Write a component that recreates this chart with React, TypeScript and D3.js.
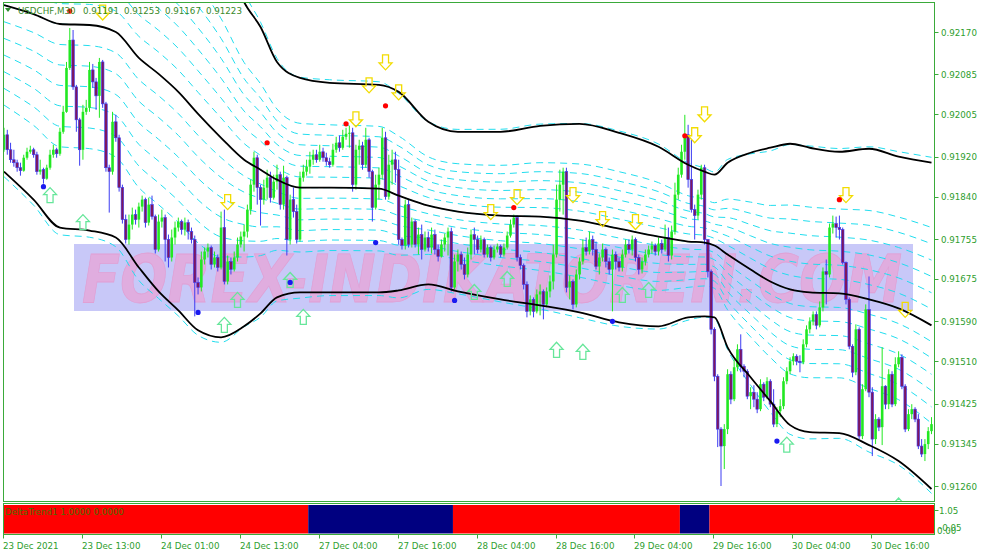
import React from 'react';
import * as d3 from 'd3';

// Prices are stored as points above 0.91000 (1 point = 0.00001)
const BASE = 0.91;
const PT = 0.00001;

const firstOpen = 934;
const closes = [
  964,934,914,908,898,892,918,930,934,924, 890,894,876,898,924,934,926,970,1010,1098,
  1154,1060,994,934,1010,1018,1094,1070,1042,1110, 1026,898,890,990,958,858,794,754,784,804,
  794,820,834,788,824,800,734,790,798,754, 718,758,778,790,774,788,770,754,668,658,
  714,730,738,704,718,698,778,670,710,694, 718,744,760,770,814,864,918,858,834,858,
  878,838,870,884,824,878,754,834,810,754, 878,890,900,914,924,914,930,918,910,904,
  934,948,938,960,966,968,864,934,942,904, 954,890,818,864,884,958,840,904,914,894,
  754,742,824,744,790,744,764,734,758,738, 764,734,720,744,758,770,658,710,724,704,
  684,724,764,754,734,754,724,738,718,734, 740,724,738,762,784,798,718,702,664,610,
  634,610,644,650,624,650,670,724,834,864, 890,658,670,624,684,710,738,730,754,734,
  700,718,734,710,694,724,710,698,724,744, 734,754,718,694,710,724,734,742,730,746,
  734,758,722,770,844,884,930,964,874,814, 802,844,898,754,690,574,480,374,340,374,
  484,434,498,534,500,490,440,448,434,414, 464,438,470,424,384,410,420,470,490,510,
  520,510,508,544,574,590,604,582,618,690, 684,778,786,778,774,708,634,540,488,574,
  360,454,614,448,354,394,378,460,424,484, 424,504,518,460,374,404,414,394,340,324,
  344,370,384
];
const highs = [
  978,974,948,934,914,908,924,938,942,938, 930,914,898,904,934,944,938,978,1022,1110,
  1178,1174,1064,998,1024,1034,1110,1106,1078,1118, 1114,1030,904,1010,1004,964,864,804,804,818,
  814,828,842,838,838,842,804,804,814,804, 764,774,790,798,794,798,794,778,762,678,
  730,738,746,742,730,724,810,814,722,718, 730,758,770,784,824,874,930,924,864,874,
  894,890,884,904,890,902,882,844,858,824, 890,904,914,930,934,934,944,938,928,918,
  946,960,962,974,978,982,978,944,954,950, 978,958,894,884,898,978,970,924,934,930,
  914,758,834,834,798,794,778,784,770,770, 778,774,744,754,766,778,778,724,734,730,
  718,738,774,778,762,762,758,744,742,742, 746,744,746,770,794,804,802,724,706,670,
  642,638,654,664,654,658,682,744,864,894, 898,898,682,674,694,718,754,758,770,762,
  750,726,746,738,718,734,730,718,734,754, 754,762,758,724,718,734,742,750,746,758,
  754,784,778,782,868,898,944,1004,984,954, 824,854,904,904,754,694,578,484,378,384,
  494,490,514,544,564,504,494,458,462,448, 474,468,478,474,454,418,434,478,498,518,
  526,524,522,554,582,598,610,610,630,698, 714,786,802,800,802,778,710,638,544,584,
  578,464,624,680,458,404,398,538,462,494, 490,518,530,524,464,414,424,418,404,354,
  354,378,398
];
const lows = [
  930,924,908,900,890,882,890,914,926,918, 884,884,866,874,894,918,918,922,966,1008,
  1094,1054,970,902,914,1004,1010,1058,1014,998, 1018,890,808,884,950,850,786,746,744,774,
  784,778,810,778,782,794,726,730,778,710, 698,710,744,770,764,762,754,746,600,644,
  650,704,718,694,698,690,694,664,664,684, 690,710,738,730,758,804,850,824,782,824,
  834,828,834,854,814,814,722,744,798,746, 750,870,882,886,904,908,910,910,902,898,
  900,928,930,934,954,938,850,854,904,894, 898,878,790,814,834,874,834,834,864,868,
  744,734,734,738,738,738,724,714,730,730, 726,724,710,718,730,722,650,654,690,694,
  674,678,714,724,726,728,718,718,710,714, 728,718,720,734,758,778,710,694,654,598,
  602,598,606,602,594,618,638,654,718,810, 804,648,634,614,618,674,704,722,724,722,
  694,684,710,698,684,610,694,690,690,718, 726,722,710,684,686,702,718,726,722,722,
  726,730,710,714,764,834,878,914,858,808, 754,794,834,744,678,564,470,338,260,294,
  364,424,430,490,488,478,434,414,418,406, 410,430,434,418,378,378,398,414,464,484,
  502,502,488,504,538,566,582,574,578,610, 624,678,766,758,754,704,624,534,478,482,
  354,354,450,438,320,344,370,342,414,414, 418,420,498,454,368,370,394,388,334,318,
  310,334,364
];

// Bands (upper / middle / lower), read at these bar indices
const bandIdx = [0,9,17,26,34,41,47,53,59,66,73,78,83,90,99,114,120,129,138,151,163,175,187,199,208,213,216,220,227,233,239,245,254,263,272,282];
const bandUpper = [1558,1578,1598,1598,1594,1564,1524,1484,1434,1354,1230,1180,1110,1078,1068,1064,1050,990,970,970,982,986,968,940,904,890,884,908,928,938,946,938,930,936,920,908];
const bandMiddle = [1224,1206,1186,1184,1170,1118,1086,1050,1006,958,914,894,874,858,858,856,842,822,810,802,800,792,776,760,750,748,742,724,694,670,654,648,646,634,616,582];
const bandLower = [890,834,778,772,758,698,650,612,572,558,580,606,638,648,648,648,652,664,650,634,622,608,588,580,598,600,598,538,478,430,382,368,366,342,310,254];
const cyanLevels = [-0.6,-0.5,-0.4,-0.3,-0.2,-0.1,0,0.1,0.2,0.3,0.4,0.5,0.6];
const shadowLevels = [-1.03, 1.03];

// Signals
const sellArrowIdx = [30,68,107,111,116,120,148,156,173,182,192,210,213,256,274];
const sellArrowPts = [1194,814,980,1048,1094,1034,794,824,828,780,774,948,990,828,598];
const buyArrowIdx = [14,24,67,71,87,91,143,153,168,176,188,196,238,272];
const buyArrowPts = [858,804,598,648,688,614,664,690,548,544,658,668,358,236];
const redDotIdx = [20,80,104,116,155,207,254];
const redDotPts = [1212,948,986,1022,818,962,834];
const blueDotIdx = [12,59,87,113,137,185,235];
const blueDotPts = [860,608,668,748,632,590,350];

// Sub-window DeltaTrend runs
const deltaStart = [0,93,137,206,215];
const deltaState = [1,0,1,0,1];

const priceTicks = [0.9217,0.92085,0.92005,0.9192,0.9184,0.91755,0.91675,0.9159,0.9151,0.91425,0.91345,0.9126];
const timeTickIdx = [0,24,48,72,96,120,144,168,192,216,240,264];
const timeLabels = ['23 Dec 2021','23 Dec 13:00','24 Dec 01:00','24 Dec 13:00','27 Dec 04:00','27 Dec 16:00','28 Dec 04:00','28 Dec 16:00','29 Dec 04:00','29 Dec 16:00','30 Dec 04:00','30 Dec 16:00'];
const symbolLabel = 'USDCHF,M30';
const headerValues = ['0.91191','0.91253','0.91167','0.91223'];
const subLabel = 'DeltaTrend1 1.0000 0.0000';
const subTicks = ['1.05', '-0.05', '0.00'];
const watermark = 'FOREX-INDIKATOREN.COM';

const FONT = 'DejaVu Sans';
const GREEN = '#2E9E2E';
const FRAME = '#3AAA3A';

export default function App() {
  const n = closes.length;
  const x = d3.scaleLinear().domain([0, n - 1]).range([4, 931.5]);
  const y = d3.scaleLinear().domain([0.9126, 0.9217]).range([486, 32]);
  const p = (v: number) => BASE + v * PT;
  const step = x(1) - x(0);
  const fmt = d3.format('.5f');

  const bandLine = d3
    .line<number>()
    .x((_, k) => x(bandIdx[k]))
    .y((v) => y(p(v)))
    .curve(d3.curveMonotoneX);
  const levelVals = (f: number) =>
    bandMiddle.map((m, k) => m + (f * (bandUpper[k] - bandLower[k])) / 2);

  const downArrow = 'M0,0 L-6.5,-7 L-3,-7 L-3,-15 L3,-15 L3,-7 L6.5,-7 Z';
  const upArrow = 'M0,0 L-6.5,7 L-3,7 L-3,15 L3,15 L3,7 L6.5,7 Z';

  const plotL = 3.5, plotR = 934.5, plotT = 2.5, plotB = 501.5;

  return (
    <svg
      width={987}
      height={555}
      style={{ position: 'fixed', left: 0, top: 0, background: '#fff' }}
      fontFamily={FONT}
    >
      <defs>
        <clipPath id="plotClip">
          <rect x={plotL} y={plotT} width={plotR - plotL} height={plotB - plotT} />
        </clipPath>
      </defs>
      <rect x={0} y={0} width={987} height={555} fill="#fff" />

      <g clipPath="url(#plotClip)">
        {/* watermark */}
        <rect x={74} y={244} width={839} height={67} fill="#C8C8F8" />
        <text
          x={82}
          y={302}
          fontSize={66}
          fontWeight="bold"
          fontStyle="italic"
          fill="#E4A8DA"
          fillOpacity={0.85}
          stroke="#E0A0D4"
          strokeWidth={0.8}
          textLength={820}
          lengthAdjust="spacingAndGlyphs"
        >
          {watermark}
        </text>

        {/* cyan level lines */}
        {cyanLevels.concat(shadowLevels).map((f, k) => (
          <path
            key={'lv' + k}
            d={bandLine(levelVals(f)) || ''}
            fill="none"
            stroke="#22DDEE"
            strokeWidth={1}
            strokeDasharray="7 5"
          />
        ))}

        {/* candles */}
        {closes.map((c, i) => {
          const o = i === 0 ? firstOpen : closes[i - 1];
          const bull = c >= o;
          const cx = x(i);
          const yTop = y(p(Math.max(o, c)));
          const yBot = y(p(Math.min(o, c)));
          const h = Math.max(1, yBot - yTop);
          return bull ? (
            <g key={'c' + i}>
              <line x1={cx} x2={cx} y1={y(p(highs[i]))} y2={y(p(lows[i]))} stroke="#22E822" strokeWidth={1} />
              <rect x={cx - 1.3} y={yTop} width={2.6} height={h} fill="#22E822" />
            </g>
          ) : (
            <g key={'c' + i}>
              <line x1={cx} x2={cx} y1={y(p(highs[i]))} y2={y(p(lows[i]))} stroke="#3C3CF2" strokeWidth={1} />
              <rect x={cx - 1.3} y={yTop} width={2.6} height={h} fill="#7E1660" stroke="#3C3CF2" strokeWidth={0.6} />
            </g>
          );
        })}

        {/* black bands */}
        {[bandUpper, bandMiddle, bandLower].map((b, k) => (
          <path key={'b' + k} d={bandLine(b) || ''} fill="none" stroke="#000" strokeWidth={1.8} />
        ))}

        {/* arrows */}
        {sellArrowIdx.map((idx, k) => (
          <path
            key={'sa' + k}
            d={downArrow}
            transform={`translate(${x(idx)},${y(p(sellArrowPts[k]))})`}
            fill="none"
            stroke="#F2DC00"
            strokeWidth={1.3}
          />
        ))}
        {buyArrowIdx.map((idx, k) => (
          <path
            key={'ba' + k}
            d={upArrow}
            transform={`translate(${x(idx)},${y(p(buyArrowPts[k]))})`}
            fill="none"
            stroke="#66E69A"
            strokeWidth={1.3}
          />
        ))}

        {/* dots */}
        {redDotIdx.map((idx, k) => (
          <circle key={'rd' + k} cx={x(idx)} cy={y(p(redDotPts[k]))} r={2.6} fill="#F00" />
        ))}
        {blueDotIdx.map((idx, k) => (
          <circle key={'bd' + k} cx={x(idx)} cy={y(p(blueDotPts[k]))} r={2.6} fill="#1A1AF0" />
        ))}
      </g>

      {/* header */}
      <path d="M5,8 L11,8 L8,12 Z" fill="#2E8A2E" />
      <text x={18} y={14} fontSize={8.7} fill="#3A8A2A">{symbolLabel}</text>
      {headerValues.map((v, k) => (
        <text key={'hv' + k} x={83 + k * 41} y={14} fontSize={8.7} fill="#3A8A2A">{v}</text>
      ))}

      {/* main frame */}
      <rect x={plotL} y={plotT} width={plotR - plotL} height={plotB - plotT} fill="none" stroke={FRAME} strokeWidth={1} />

      {/* price axis */}
      {priceTicks.map((t, k) => (
        <g key={'pt' + k}>
          <line x1={plotR} x2={plotR + 4} y1={Math.round(y(t)) + 0.5} y2={Math.round(y(t)) + 0.5} stroke={FRAME} />
          <text x={941} y={y(t) + 3.5} fontSize={8.7} fill={GREEN}>{fmt(t)}</text>
        </g>
      ))}

      {/* sub window */}
      {deltaStart.map((s, k) => {
        const x0 = k === 0 ? plotL : x(s) - step / 2;
        const x1 = k === deltaStart.length - 1 ? plotR : x(deltaStart[k + 1]) - step / 2;
        return (
          <rect key={'dt' + k} x={x0} y={505} width={x1 - x0} height={28.5} fill={deltaState[k] ? '#FF0000' : '#000080'} />
        );
      })}
      <rect x={plotL} y={503.5} width={plotR - plotL} height={31} fill="none" stroke={FRAME} strokeWidth={1} />
      <text x={5} y={515} fontSize={8.7} fill="#4A6E00">{subLabel}</text>
      <line x1={plotR} x2={plotR + 4} y1={510.5} y2={510.5} stroke={FRAME} />
      <text x={939} y={514} fontSize={8.7} fill={GREEN}>{subTicks[0]}</text>
      <text x={939} y={530.5} fontSize={8.7} fill={GREEN}>{subTicks[1]}</text>
      <text x={937} y={534} fontSize={8.7} fill={GREEN}>{subTicks[2]}</text>

      {/* time axis */}
      {timeTickIdx.map((idx, k) => (
        <g key={'tt' + k}>
          <line x1={Math.round(x(idx)) - 0.5} x2={Math.round(x(idx)) - 0.5} y1={534.5} y2={538.5} stroke={FRAME} />
          <text x={Math.round(x(idx)) - 1} y={549} fontSize={8.7} fill={GREEN}>{timeLabels[k]}</text>
        </g>
      ))}
    </svg>
  );
}
